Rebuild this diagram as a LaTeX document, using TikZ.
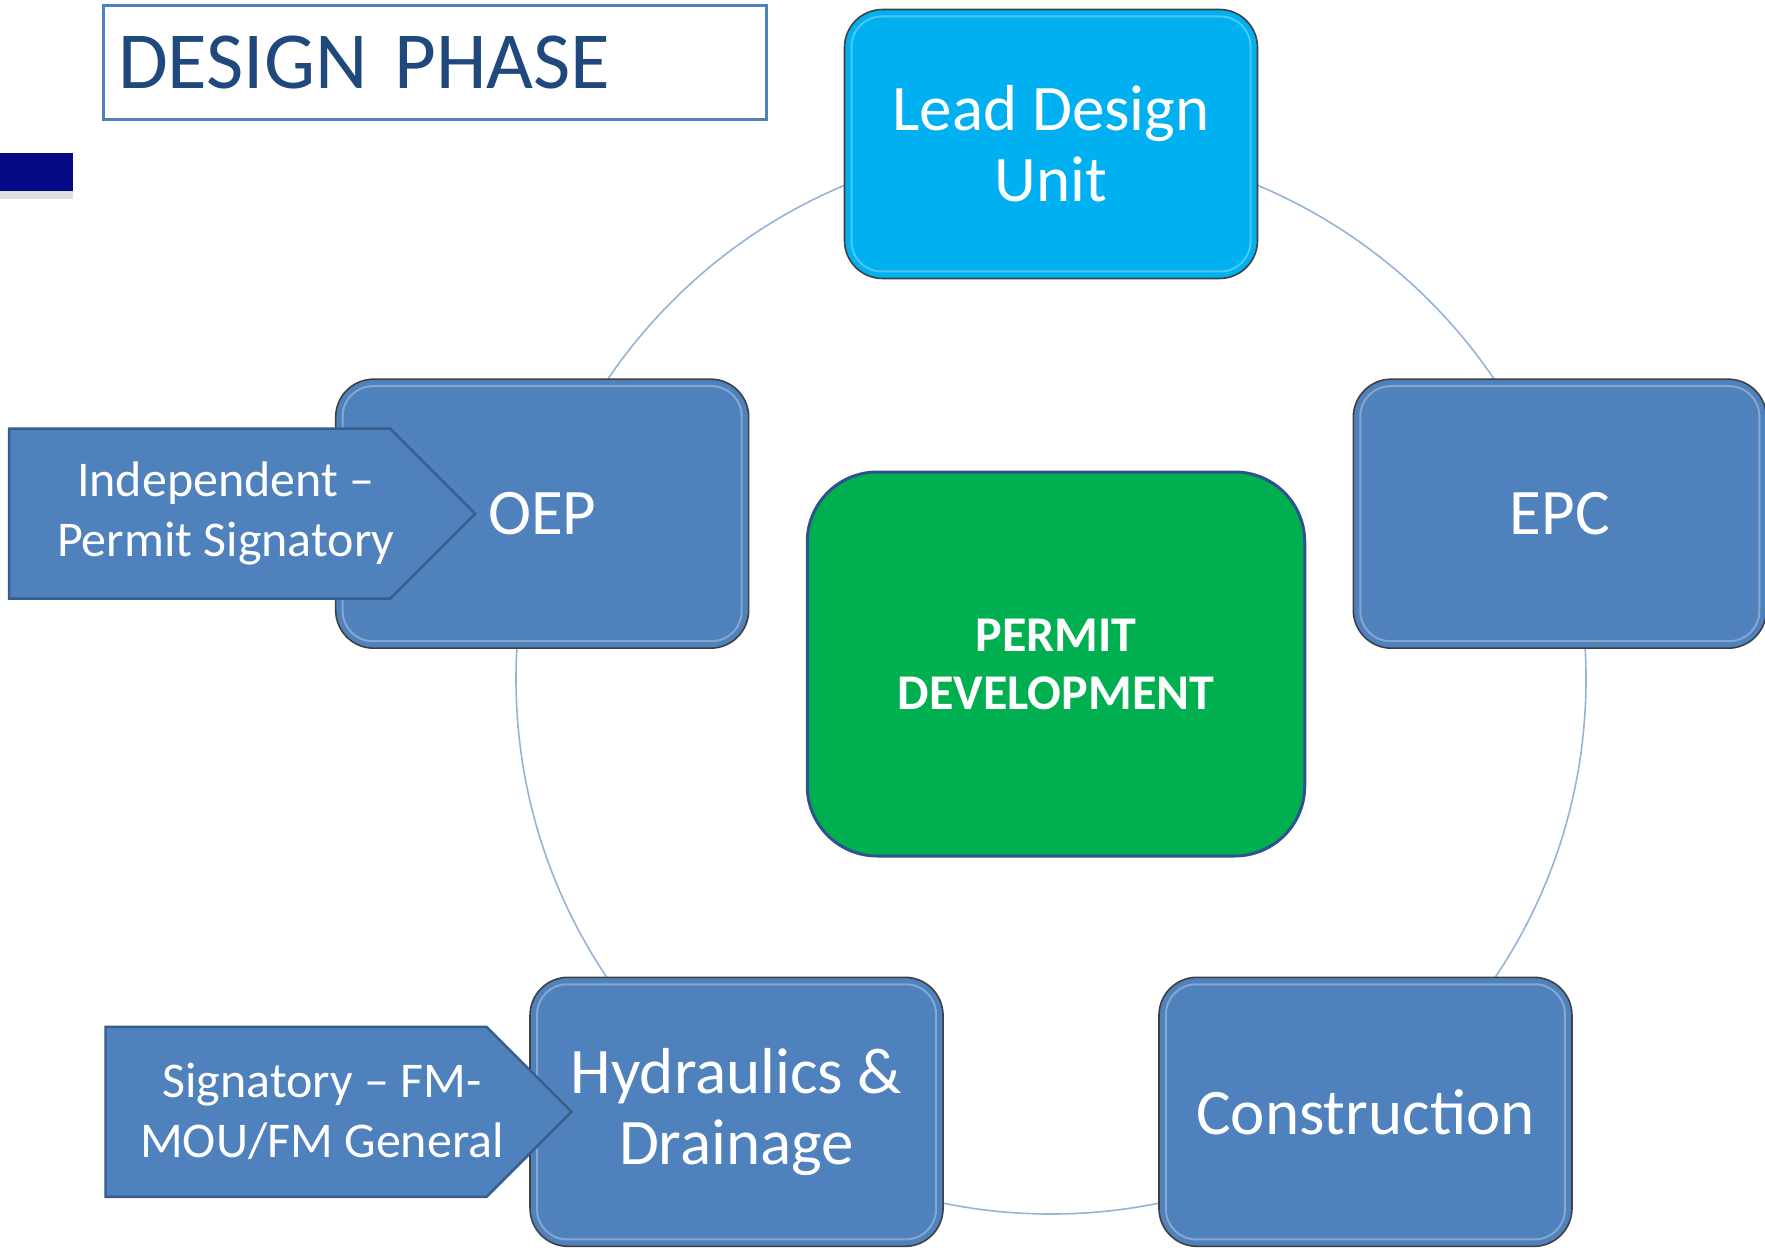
\documentclass[tikz,border=0pt]{standalone}
\usepackage{fontspec}
\setmainfont{Carlito}
\usetikzlibrary{positioning,shapes.symbols}
\definecolor{stageblue}{HTML}{4F81BD}
\definecolor{leadblue}{HTML}{00B0F0}
\definecolor{permitgreen}{HTML}{00B050}
\definecolor{permitedge}{HTML}{2F528F}
\definecolor{titleblue}{HTML}{1F497D}
\definecolor{tagedge}{HTML}{385D8A}
\definecolor{ringblue}{HTML}{95B3D7}
\definecolor{barnavy}{HTML}{050A85}

\begin{document}
\begin{tikzpicture}
   [x=0.5pt,y=-0.5pt,
    stage/.style={rectangle, rounded corners=19pt, draw=black!75, line width=0.8pt,
      fill=stageblue, text=white, align=center,
      minimum width=206.5pt, minimum height=134.5pt,
      font=\fontsize{32.5}{35.5}\selectfont,
      path picture={\draw [white, opacity=0.3, line width=1pt, rounded corners=15pt]
        ([shift={(3.5pt,-3.5pt)}]path picture bounding box.north west) rectangle
        ([shift={(-3.5pt,3.5pt)}]path picture bounding box.south east);}},
    tag/.style={signal, signal to=east, draw=tagedge, line width=1.2pt,
      fill=stageblue, minimum width=233pt, minimum height=85pt},
    tagtext/.style={xshift=13pt, text=white, align=center,
      font=\fontsize{25}{30}\selectfont}]

\useasboundingbox (0,0) rectangle (1765,1251);

\node [draw=stageblue, line width=1.2pt, fill=white, inner xsep=7.25pt,
  text width=317pt, minimum height=57pt, align=left, text=titleblue,
  font=\fontsize{40.5}{45}\selectfont] (title) at (435,62.5) {DESIGN PHASE};
\fill [black!12] (0,191) rectangle (73,199);
\fill [barnavy] (0,153) rectangle (73,191);

\coordinate (ctr) at (1051,679);
\draw [ringblue, line width=0.8pt] (ctr) circle [radius=535];

\node [stage, fill=leadblue] (lead) at ([shift={(-90:535)}]ctr) {Lead Design\\Unit};
\node [stage] (epc) at ([shift={(-18:535)}]ctr) {EPC};
\node [stage] (constr) at ([shift={(54:535)}]ctr) {Construction};
\node [stage] (hyd) at ([shift={(126:535)}]ctr) {Hydraulics \&\\Drainage};
\node [stage] (oep) at ([shift={(198:535)}]ctr) {OEP};

\node [rectangle, rounded corners=35pt, draw=permitedge, line width=1.5pt,
  fill=permitgreen, text=white, align=center,
  minimum width=248.75pt, minimum height=192pt,
  font=\fontsize{25}{29}\selectfont\bfseries] (permit) at (1056,664)
  {PERMIT\\DEVELOPMENT};

\node [tag, left=-71pt of oep,
  label={[tagtext]center:{Independent --\\Permit Signatory}}] (indep) {};
\node [tag, left=-22pt of hyd,
  label={[tagtext]center:{Signatory -- FM-\\MOU/FM General}}] (signat) {};
\end{tikzpicture}
\end{document}
